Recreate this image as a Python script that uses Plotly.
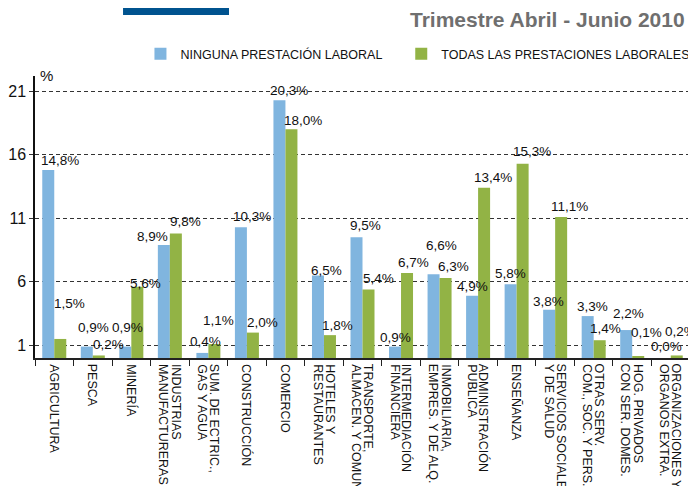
import plotly.graph_objects as go

categories = [
    "AGRICULTURA", "PESCA", "MINERÍA", "INDUSTRIAS<br>MANUFACTURERAS",
    "SUM. DE ECTRIC.,<br>GAS Y AGUA", "CONSTRUCCIÓN", "COMERCIO",
    "HOTELES Y<br>RESTAURANTES", "TRANSPORTE,<br>ALMACEN. Y COMUN.",
    "INTERMEDIACIÓN<br>FINANCIERA", "INMOBILIARIA,<br>EMPRES. Y DE ALQ.",
    "ADMINISTRACIÓN<br>PUBLICA", "ENSEÑANZA", "SERVICIOS SOCIALES<br>Y DE SALUD",
    "OTRAS SERV.<br>COM., SOC. Y PERS.", "HOG. PRIVADOS<br>CON SER. DOMES.",
    "ORGANIZACIONES Y<br>ORGANOS EXTRA.",
]
ninguna = [14.8, 0.9, 0.9, 8.9, 0.4, 10.3, 20.3, 6.5, 9.5, 0.9, 6.6, 4.9, 5.8, 3.8, 3.3, 2.2, 0.0]
todas = [1.5, 0.2, 5.6, 9.8, 1.1, 2.0, 18.0, 1.8, 5.4, 6.7, 6.3, 13.4, 15.3, 11.1, 1.4, 0.1, 0.2]
series_names = ["NINGUNA PRESTACIÓN LABORAL", "TODAS LAS PRESTACIONES LABORALES"]
y_tickvals = [1, 6, 11, 16, 21]
title_text = "Trimestre Abril - Junio 2010"

# label nudges (pixels): horizontal offset of label centre from bar centre, gap above bar
blue_dx = [12, 7, 2, -11, 3, 11, 10, 8.5, 8.5, 0, 7.5, 0, 0, -1, 4.5, 2, 2]
blue_gap = [3, 13, 13, 2, 5, 4, 3, -2, 5, 3, 22, 3, 4, 2, 3, 10, 5]
green_dx = [9, 9.5, 8, 10, 4, 9.5, 11.5, 7.5, 9.5, 6, 7.5, 9, 9, 8, 6, 8, 4]
green_gap = [29, 4, -3, 6, 17, 4, 2, 3, 4, 4, 5, 4, 6, 4, 5, 18, 17]

FONT = "Liberation Sans, Arial, sans-serif"
BLUE = "#80B5DF"
GREEN = "#92B345"
x_idx = list(range(len(categories)))
LEGEND_PAD = "\u00a0" * 4

fig = go.Figure()
fig.add_trace(go.Bar(x=x_idx, y=ninguna, name=series_names[0] + LEGEND_PAD,
                     marker=dict(color=BLUE, line=dict(width=0))))
fig.add_trace(go.Bar(x=x_idx, y=todas, name=series_names[1],
                     marker=dict(color=GREEN, line=dict(width=0))))

def fmt(v):
    return f"{v:.1f}".replace(".", ",") + "%"

ann = []
for i, (b, g) in enumerate(zip(ninguna, todas)):
    ann.append(dict(x=i, y=b, xref="x", yref="y", text=fmt(b), showarrow=False,
                    xanchor="center", yanchor="bottom", xshift=-6 + blue_dx[i], yshift=blue_gap[i] - 3,
                    font=dict(family=FONT, size=13.5, color="#111")))
    ann.append(dict(x=i, y=g, xref="x", yref="y", text=fmt(g), showarrow=False,
                    xanchor="center", yanchor="bottom", xshift=6 + green_dx[i], yshift=green_gap[i] - 3,
                    font=dict(family=FONT, size=13.5, color="#111")))
    lines = categories[i].split("<br>")
    n = len(lines)
    for j, ln in enumerate(lines):
        ann.append(dict(x=i, y=0, xref="x", yref="paper", text=ln, showarrow=False, textangle=90,
                        xanchor="center", yanchor="top", yshift=-4, xshift=((n - 1) / 2 - j) * 12.5,
                        font=dict(family=FONT, size=12.5, color="#111")))

ann.append(dict(x=0.0168, y=1.0035, xref="paper", yref="paper", text="%", showarrow=False,
                xanchor="center", yanchor="middle", font=dict(family=FONT, size=15, color="#111")))
ann.append(dict(x=0.9954, y=1.1986, xref="paper", yref="paper", text=f"<b>{title_text}</b>", showarrow=False,
                xanchor="right", yanchor="middle", font=dict(family=FONT, size=21, color="#6F6F6F")))

shapes = [
    dict(type="line", xref="paper", yref="paper", x0=0.1344, x1=0.9954, y0=1.2553, y1=1.2553,
         line=dict(color="#333", width=1.5)),
    dict(type="rect", xref="paper", yref="paper", x0=0.1344, x1=0.2962, y0=1.2163, y1=1.2518,
         fillcolor="#00538F", line=dict(width=0)),
]

fig.update_layout(
    width=696, height=486,
    margin=dict(l=27, r=14, t=68, b=136, autoexpand=False),
    paper_bgcolor="white", plot_bgcolor="white",
    barmode="group", bargap=0.377, bargroupgap=0,
    font=dict(family=FONT, color="#111"),
    annotations=ann, shapes=shapes,
    legend=dict(orientation="h", x=0.161, y=1.078, xanchor="left", yanchor="middle",
                font=dict(family=FONT, size=12.5, color="#111"),
                bgcolor="rgba(0,0,0,0)"),
    xaxis=dict(type="linear", range=[-0.5, len(categories) - 0.5], showticklabels=False,
               tickvals=[k - 0.5 for k in range(len(categories) + 1)], automargin=False,
               ticks="outside", ticklen=6, tickcolor="#222", tickwidth=1,
               showline=True, linecolor="#222", linewidth=1.5, showgrid=False, zeroline=False),
    yaxis=dict(range=[0, 22.2], tickvals=y_tickvals, showgrid=True, gridcolor="#333", automargin=False,
               griddash="4px,3px", gridwidth=1, showline=True, linecolor="#111", linewidth=1.5,
               ticks="outside", ticklen=4, tickcolor="#333", zeroline=False,
               tickfont=dict(family=FONT, size=16, color="#111")),
)

fig.write_html("out.html")
